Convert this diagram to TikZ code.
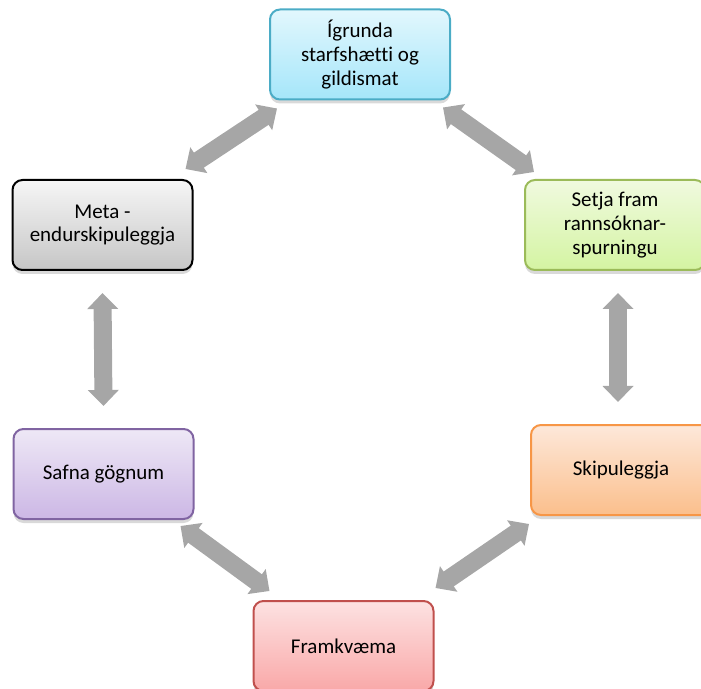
\documentclass[tikz,border=0pt]{standalone}
\usepackage{fontspec}
\setmainfont{Carlito}[Ligatures=NoCommon]
\usepackage{tikz}
\usetikzlibrary{arrows.meta,shadows}
\definecolor{aqua2}{HTML}{4bacc6}
\definecolor{aqua6}{HTML}{a5e6fa}
\definecolor{aqua9}{HTML}{e2f7fd}
\definecolor{green2}{HTML}{9bbb59}
\definecolor{green6}{HTML}{d4f4a2}
\definecolor{green9}{HTML}{f0fadf}
\definecolor{orange2}{HTML}{f79646}
\definecolor{orange6}{HTML}{fbbf8c}
\definecolor{orange9}{HTML}{fde8da}
\definecolor{red2}{HTML}{c0504d}
\definecolor{red6}{HTML}{f9a8a8}
\definecolor{red9}{HTML}{fde2e2}
\definecolor{purple2}{HTML}{8064a2}
\definecolor{purple6}{HTML}{ccb7e5}
\definecolor{purple9}{HTML}{eee8f6}
\definecolor{grey2}{HTML}{000000}
\definecolor{grey6}{HTML}{c6c6c6}
\definecolor{grey9}{HTML}{f6f6f6}
\definecolor{link}{HTML}{a6a6a6}

\begin{document}
\begin{tikzpicture}[x=0.5pt, y=-0.5pt, align=center,
  box/.style={rectangle, rounded corners=5pt, line width=1pt, minimum width=90pt, minimum height=45pt,
    font=\fontsize{10.5}{11.8}\selectfont, drop shadow={opacity=0.3, shadow xshift=0pt, shadow yshift=-2pt},
    draw=#12, top color=#19, bottom color=#16},
  dbl/.style={draw=link, line width=9pt, {Triangle[width=15pt,length=8pt]}-{Triangle[width=15pt,length=8pt]}}]
\clip (0,0) rectangle (701,689);
\node[box=aqua] (igrunda) at (360,54.5) {Ígrunda\\starfshætti og\\gildismat};
\node[box=green] (setja) at (615,225) {Setja fram\\rannsóknar-\\spurningu};
\node[box=orange] (skipul) at (621,470) {Skipuleggja};
\node[box=red] (framkv) at (343.5,646) {Framkvæma};
\node[box=purple] (safna) at (103.5,474) {Safna gögnum};
\node[box=grey] (meta) at (102.5,225) {Meta -\\endurskipuleggja};
\draw[dbl] ([xshift=-4pt,yshift=5pt]meta.north east) -- ([xshift=4pt,yshift=-4pt]igrunda.south west);
\draw[dbl] ([xshift=-4pt,yshift=-3.5pt]igrunda.south east) -- ([xshift=5pt,yshift=3.5pt]setja.north west);
\draw[dbl] ([xshift=1.5pt,yshift=-11pt]setja.south) -- ([xshift=-1.5pt,yshift=11pt]skipul.north);
\draw[dbl] ([xshift=-0.5pt,yshift=-4pt]skipul.south west) -- ([xshift=0.5pt,yshift=6pt]framkv.north east);
\draw[dbl] ([xshift=8.5pt,yshift=4.5pt]framkv.north west) -- ([xshift=-7pt,yshift=-3pt]safna.south east);
\draw[dbl] ([yshift=11pt]safna.north) -- ([yshift=-11pt]meta.south);
\end{tikzpicture}
\end{document}
